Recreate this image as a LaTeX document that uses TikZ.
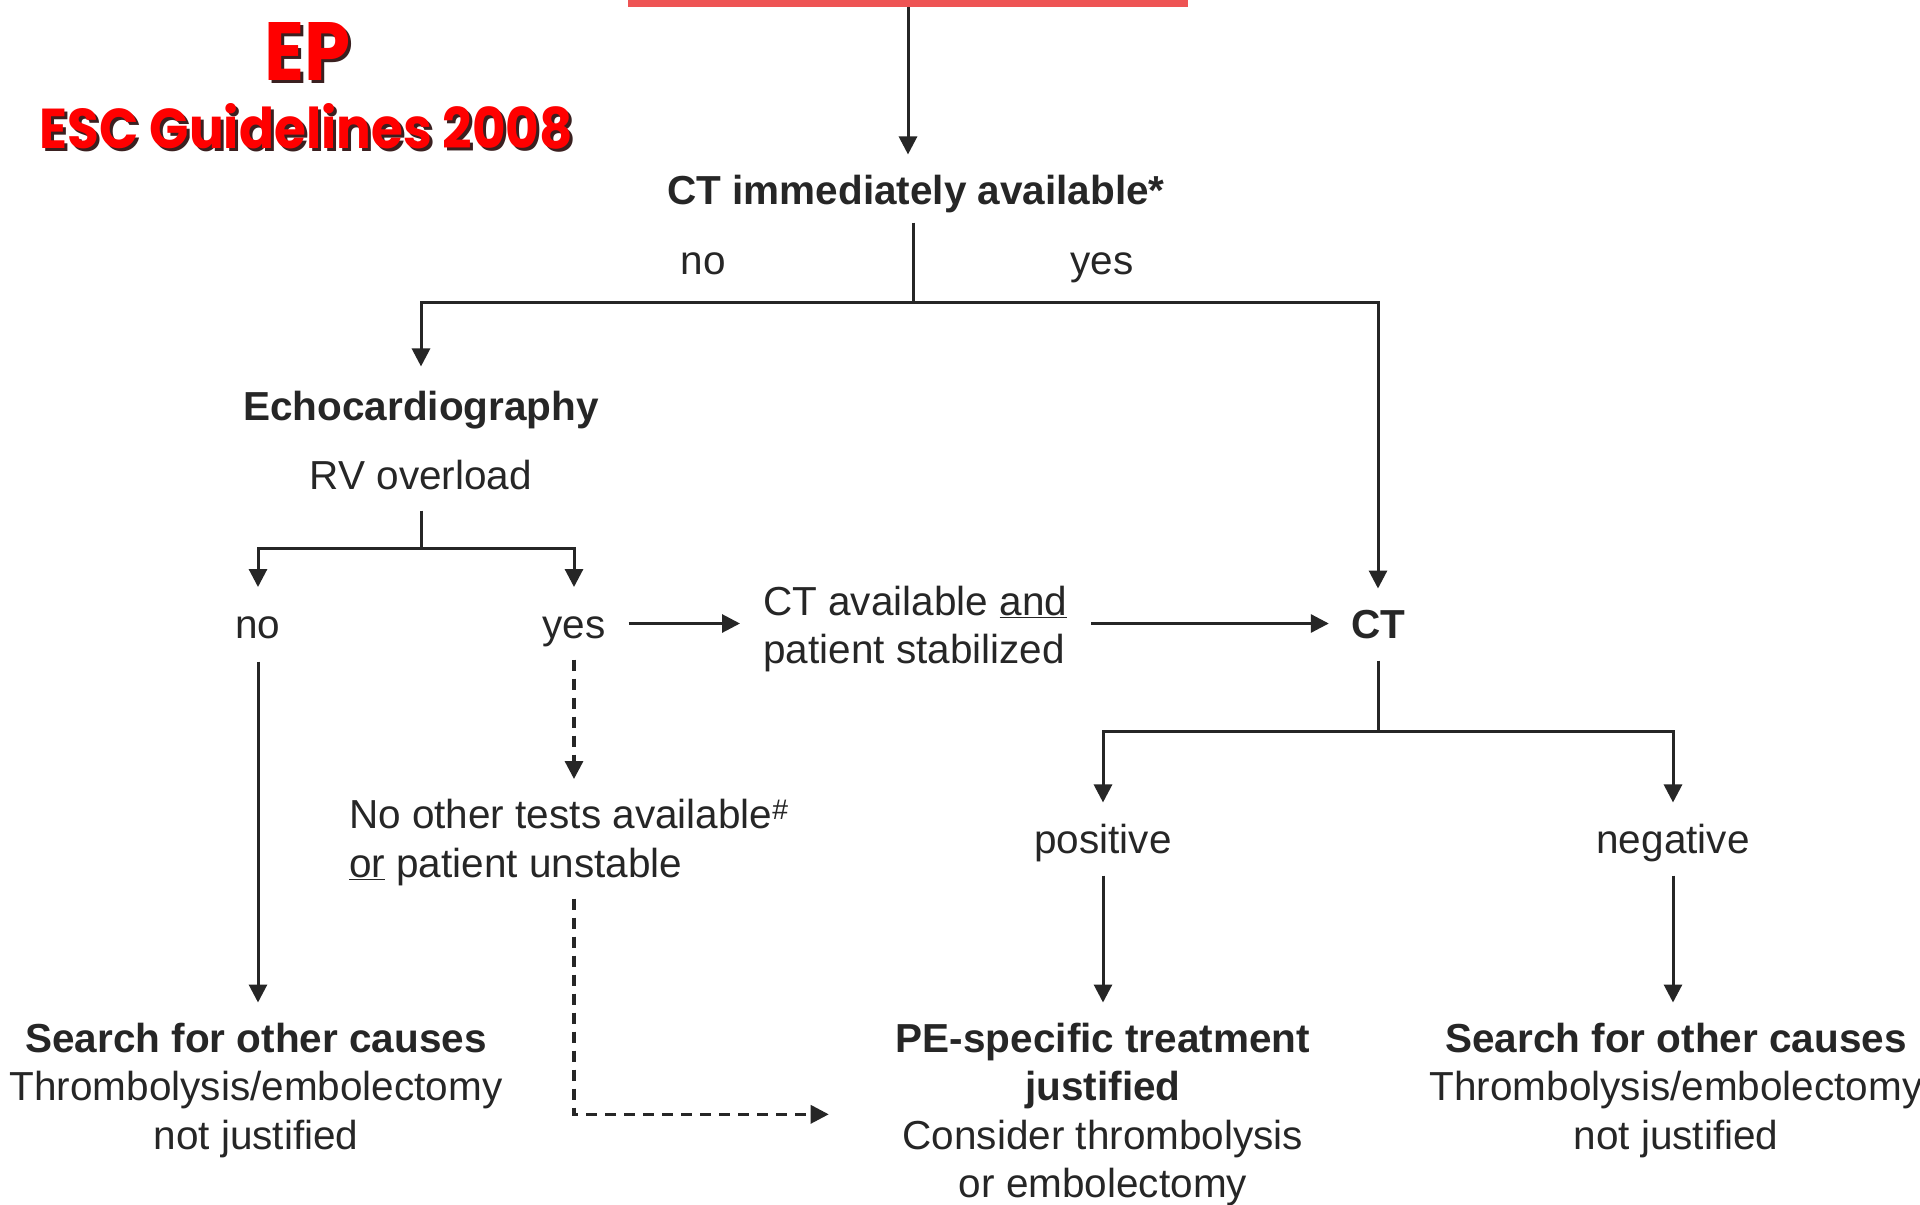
\documentclass[tikz,border=0pt]{standalone}
\usepackage{fontspec}
\usepackage{graphicx}
\setmainfont{Liberation Sans}
\newfontfamily\titlefont{Poppins}
\usetikzlibrary{arrows.meta}
\definecolor{ink}{HTML}{262626}
\definecolor{barred}{HTML}{EE5454}
\definecolor{titlered}{HTML}{FF0000}
\definecolor{shade}{HTML}{3A2020}
\begin{document}
\begin{tikzpicture}[x=1pt,y=-1pt,
  conn/.style={draw=ink, line width=3pt},
  arr/.style={conn, -{Triangle[width=18pt,length=18pt]}},
  darr/.style={arr, line width=3.3pt, dash pattern=on 11pt off 8pt},
  txt/.style={text=ink, inner sep=0pt, font=\fontsize{40.5}{48.5}\selectfont},
  txtb/.style={txt, font=\fontsize{40.5}{48.5}\selectfont\bfseries},
  ttl/.style={inner sep=0pt, font=\titlefont\bfseries}
]
\useasboundingbox[fill=white] (0,0) rectangle (1920,1205);

% title
\node[ttl, text=shade] (epS) at (311,54) {\resizebox{86pt}{58pt}{EP}};
\node[ttl, text=titlered] (ep) at (308,51) {\resizebox{86pt}{58pt}{EP}};
\node[ttl, text=shade] (escS) at (309.5,129.5) {\resizebox{533pt}{45pt}{ESC Guidelines 2008}};
\node[ttl, text=titlered] (esc) at (306.5,126.5) {\resizebox{533pt}{45pt}{ESC Guidelines 2008}};

% red bar
\node[fill=barred, minimum width=560pt, minimum height=27pt, inner sep=0pt, anchor=south] (bar) at (908,7) {};

% nodes
\node[txtb, anchor=base] (ctq) at (916,204) {CT immediately available*};
\node[txt, anchor=base] (ctqno) at (703,274) {no};
\node[txt, anchor=base] (ctqyes) at (1102,274) {yes};
\node[txtb, anchor=base] (echo) at (421,420) {Echocardiography};
\node[txt, anchor=base] (rv) at (421,489) {RV overload};
\node[txt, anchor=base] (rvno) at (258,638) {no};
\node[txt, anchor=base] (rvyes) at (574,638) {yes};
\node[txt, anchor=north west, align=left] (ctstab) at (763,585.5) {CT available \underline{and}\\patient stabilized};
\node[txtb, anchor=base] (ct) at (1378,638) {CT};
\node[txt, anchor=base] (pos) at (1103,853) {positive};
\node[txt, anchor=base] (neg) at (1673,853) {negative};
\node[txt, anchor=north west, align=left] (noother) at (349,799) {No other tests available\smash{\textsuperscript{\#}}\\\underline{or} patient unstable};
\node[txt, anchor=north, align=center] (res1) at (256,1022.5) {\textbf{Search for other causes}\\Thrombolysis/embolectomy\\not justified};
\node[txt, anchor=north, align=center] (res2) at (1103,1022.5) {\textbf{PE-specific treatment}\\\textbf{justified}\\Consider thrombolysis\\or embolectomy};
\node[txt, anchor=north, align=center] (res3) at (1676,1022.5) {\textbf{Search for other causes}\\Thrombolysis/embolectomy\\not justified};

% junctions
\coordinate (j1) at (913,302);
\coordinate (j2) at (421,548);
\coordinate (j3) at (1378,731);
\coordinate (r1) at (0,623.5);

% connectors
\draw[arr, shorten >=20pt] (bar.south) -- (bar.south |- ctq.north);
\draw[conn, shorten <=10pt] ([xshift=-3pt]ctq.south) -- ([xshift=-3pt]ctq.south |- j1);
\draw[arr, shorten >=24pt] (j1) -| (echo.north);
\draw[arr, shorten >=21pt] (j1) -| (ct.north);

\draw[conn, shorten <=21pt] (rv.south) -- (j2);
\draw[arr, shorten >=29pt] (j2) -| (rvno.north);
\draw[arr, shorten >=29pt] (j2) -| (rvyes.north);

\draw[arr, shorten <=23pt, shorten >=23pt] (rvyes.east |- r1) -- (ctstab.west |- r1);
\draw[arr, shorten <=24pt, shorten >=22pt] (ctstab.east |- r1) -- (ct.west |- r1);

\draw[conn, shorten <=22pt] (ct.south) -- (j3);
\draw[arr, shorten >=21pt] (j3) -| (pos.north);
\draw[arr, shorten >=21pt] (j3) -| (neg.north);

\draw[arr, shorten <=14pt, shorten >=20pt] (pos.south) -- (pos.south |- res2.north);
\draw[arr, shorten <=14pt, shorten >=20pt] (neg.south) -- (neg.south |- res3.north);
\draw[arr, shorten <=23pt, shorten >=20pt] (rvno.south) -- (rvno.south |- res1.north);

\draw[darr, shorten <=13pt, shorten >=20pt] (rvyes.south) -- (rvyes.south |- noother.north);
\draw[darr, shorten <=13pt, shorten >=67pt] (rvyes.south |- noother.south) |- (res2.west);
\end{tikzpicture}
\end{document}
